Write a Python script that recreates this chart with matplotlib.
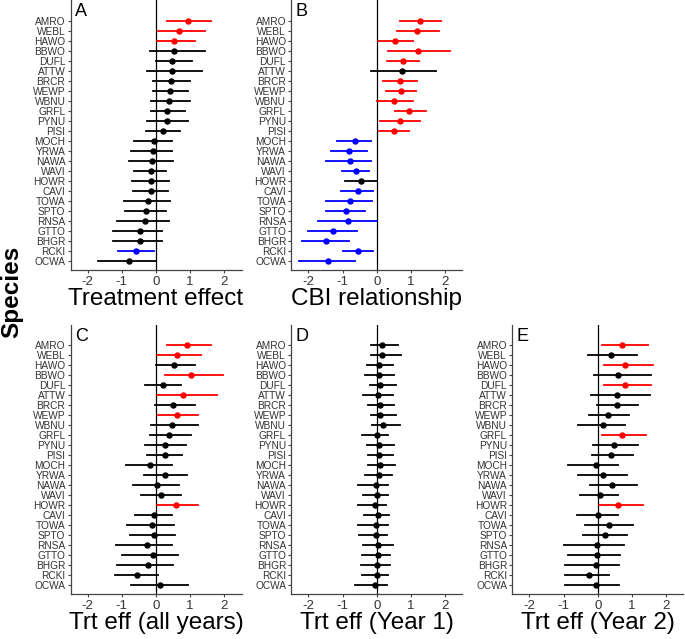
import numpy as np
import matplotlib
matplotlib.use("Agg")
import matplotlib.pyplot as plt

plt.rcParams['font.family'] = ['Liberation Sans', 'DejaVu Sans']

# species, top to bottom
species = ["AMRO", "WEBL", "HAWO", "BBWO", "DUFL", "ATTW", "BRCR", "WEWP",
           "WBNU", "GRFL", "PYNU", "PISI", "MOCH", "YRWA", "NAWA", "WAVI",
           "HOWR", "CAVI", "TOWA", "SPTO", "RNSA", "GTTO", "BHGR", "RCKI", "OCWA"]

# A: treatment effect (estimate, lower, upper, sign)
a_est = [0.93, 0.67, 0.53, 0.52, 0.48, 0.46, 0.43, 0.41, 0.38, 0.32, 0.31, 0.21,
         -0.07, -0.10, -0.12, -0.15, -0.15, -0.15, -0.22, -0.28, -0.32, -0.48, -0.48, -0.58, -0.78]
a_lo = [0.32, 0.05, 0.03, -0.19, -0.01, -0.25, -0.10, -0.10, -0.16, -0.16, -0.26, -0.30,
        -0.65, -0.72, -0.78, -0.64, -0.69, -0.68, -0.93, -0.92, -1.14, -1.25, -1.25, -1.12, -1.69]
a_hi = [1.60, 1.42, 1.14, 1.43, 1.05, 1.34, 1.00, 0.95, 0.99, 0.86, 0.93, 0.70,
        0.47, 0.47, 0.49, 0.30, 0.39, 0.35, 0.40, 0.28, 0.39, 0.19, 0.19, -0.07, 0.0]
a_sig = [1, 1, 1, 0, 0, 0, 0, 0, 0, 0, 0, 0, 0, 0, 0, 0, 0, 0, 0, 0, 0, 0, 0, -1, 0]

# B: CBI relationship
b_est = [1.27, 1.18, 0.54, 1.20, 0.77, 0.74, 0.67, 0.70, 0.51, 0.95, 0.67, 0.50,
         -0.63, -0.81, -0.79, -0.60, -0.45, -0.55, -0.79, -0.90, -0.83, -1.27, -1.48, -0.55, -1.42]
b_lo = [0.69, 0.59, 0.03, 0.33, 0.31, -0.18, 0.18, 0.27, 0.02, 0.53, 0.11, 0.07,
        -1.15, -1.35, -1.48, -1.02, -0.94, -1.04, -1.48, -1.47, -1.72, -2.02, -2.18, -1.00, -2.27]
b_hi = [1.88, 1.82, 1.05, 2.14, 1.24, 1.72, 1.17, 1.14, 1.05, 1.44, 1.26, 0.94,
        -0.17, -0.28, -0.17, -0.22, 0.00, -0.12, -0.15, -0.35, 0.00, -0.58, -0.82, -0.12, -0.62]
b_sig = [1, 1, 1, 1, 1, 0, 1, 1, 1, 1, 1, 1,
         -1, -1, -1, -1, 0, -1, -1, -1, -1, -1, -1, -1, -1]

# C: treatment effect, all years
c_est = [0.92, 0.62, 0.53, 1.01, 0.20, 0.79, 0.50, 0.60, 0.48, 0.38, 0.27, 0.25,
         -0.19, 0.27, 0.02, 0.16, 0.59, -0.07, -0.11, -0.07, -0.27, -0.10, -0.23, -0.56, 0.13]
c_lo = [0.32, 0.04, -0.01, 0.27, -0.32, 0.03, -0.04, 0.05, -0.16, -0.19, -0.31, -0.25,
        -0.87, -0.34, -0.68, -0.44, 0.03, -0.60, -0.84, -0.76, -1.17, -0.98, -1.14, -1.20, -0.72]
c_hi = [1.60, 1.32, 1.15, 1.95, 0.73, 1.77, 1.13, 1.24, 1.24, 1.03, 0.88, 0.76,
        0.46, 0.91, 0.67, 0.73, 1.24, 0.46, 0.52, 0.56, 0.48, 0.65, 0.51, 0.07, 0.93]
c_sig = [1, 1, 0, 1, 0, 1, 0, 1, 0, 0, 0, 0, 0, 0, 0, 0, 1, 0, 0, 0, 0, 0, 0, 0, 0]

# D: treatment effect, year 1
d_est = [0.15, 0.15, 0.08, 0.08, 0.11, 0.05, 0.09, 0.11, 0.17, 0.01, 0.08, 0.07,
         0.10, 0.07, -0.01, 0.01, -0.04, 0.04, -0.01, -0.01, 0.03, 0.03, 0.02, 0.01, -0.05]
d_lo = [-0.18, -0.18, -0.29, -0.34, -0.20, -0.41, -0.25, -0.18, -0.13, -0.43, -0.29, -0.26,
        -0.26, -0.33, -0.56, -0.39, -0.55, -0.37, -0.54, -0.51, -0.39, -0.43, -0.47, -0.44, -0.64]
d_hi = [0.63, 0.71, 0.47, 0.52, 0.55, 0.47, 0.50, 0.57, 0.69, 0.32, 0.50, 0.49,
        0.54, 0.44, 0.32, 0.32, 0.27, 0.37, 0.32, 0.31, 0.47, 0.40, 0.38, 0.32, 0.29]
d_sig = [0] * 25

# E: treatment effect, year 2
e_est = [0.72, 0.38, 0.81, 0.60, 0.79, 0.55, 0.55, 0.31, 0.15, 0.70, 0.47, 0.40,
         -0.05, 0.15, 0.41, 0.08, 0.59, 0.02, 0.33, 0.22, -0.03, -0.02, -0.05, -0.25, -0.05]
e_lo = [0.12, -0.27, 0.18, -0.11, 0.19, -0.19, -0.01, -0.26, -0.59, 0.14, -0.13, -0.17,
        -0.87, -0.59, -0.22, -0.51, 0.03, -0.60, -0.37, -0.44, -1.00, -0.87, -0.96, -0.96, -0.96]
e_hi = [1.48, 1.14, 1.61, 1.56, 1.56, 1.54, 1.17, 0.91, 0.80, 1.41, 1.17, 1.03,
        0.60, 0.85, 1.14, 0.60, 1.31, 0.60, 1.04, 0.86, 0.77, 0.64, 0.62, 0.34, 0.62]
e_sig = [1, 0, 1, 0, 1, 0, 0, 0, 0, 1, 0, 0, 0, 0, 0, 0, 1, 0, 0, 0, 0, 0, 0, 0, 0]

panels = [
    ("A", "Treatment effect", a_est, a_lo, a_hi, a_sig),
    ("B", "CBI relationship", b_est, b_lo, b_hi, b_sig),
    ("C", "Trt eff (all years)", c_est, c_lo, c_hi, c_sig),
    ("D", "Trt eff (Year 1)", d_est, d_lo, d_hi, d_sig),
    ("E", "Trt eff (Year 2)", e_est, e_lo, e_hi, e_sig),
]

W, H = 685, 639
# axes boxes in pixels: left, top, width, height
boxes = [(70.5, 0, 171, 270), (291.2, 0, 171, 270),
         (70.5, 325, 171, 269), (291.2, 325, 171, 269), (512.2, 325, 171, 269)]

col_map = {1: "#FF0000", -1: "#0000FF", 0: "black"}

fig = plt.figure(figsize=(W / 100, H / 100), dpi=100)
ypos = np.arange(len(species))[::-1]

for (letter, xlab, est, lo, hi, sig), (l, t, w, h) in zip(panels, boxes):
    ax = fig.add_axes([l / W, 1 - (t + h) / H, w / W, h / H])
    ax.axvline(0, color="black", lw=0.9, zorder=1)
    for y, e, a, b, s in zip(ypos, est, lo, hi, sig):
        c = col_map[s]
        ax.plot([a, b], [y, y], color=c, lw=1.3, zorder=2)
        ax.plot(e, y, "o", color=c, ms=3.6, zorder=3)
    ax.set_xlim(-2.5, 2.5)
    ax.set_ylim(-0.92, 26.05)
    ax.set_xticks([-2, -1, 0, 1, 2])
    ax.set_xticklabels(["-2", "-1", "0", "1", "2"])
    ax.set_yticks(ypos)
    ax.set_yticklabels(species)
    for side in ("top", "right"):
        ax.spines[side].set_visible(False)
    for side in ("left", "bottom"):
        ax.spines[side].set_color("#444444")
        ax.spines[side].set_linewidth(0.9)
    ax.tick_params(axis="x", length=2.5, width=0.8, color="#444444",
                   labelsize=9.5, labelcolor="#333333", pad=1.5)
    ax.tick_params(axis="y", length=2.5, width=0.8, color="#444444",
                   labelsize=7.3, labelcolor="#333333", pad=1.2)
    ax.set_xlabel(xlab, fontsize=17.5, labelpad=0.5)
    ax.text(0.025, 0.956, letter, transform=ax.transAxes, fontsize=13,
            ha="left", va="center")

fig.text(12 / W, 1 - 292 / H, "Species", rotation=90, fontsize=17.5,
         fontweight="bold", ha="center", va="center")

fig.savefig("out.png", dpi=100)
